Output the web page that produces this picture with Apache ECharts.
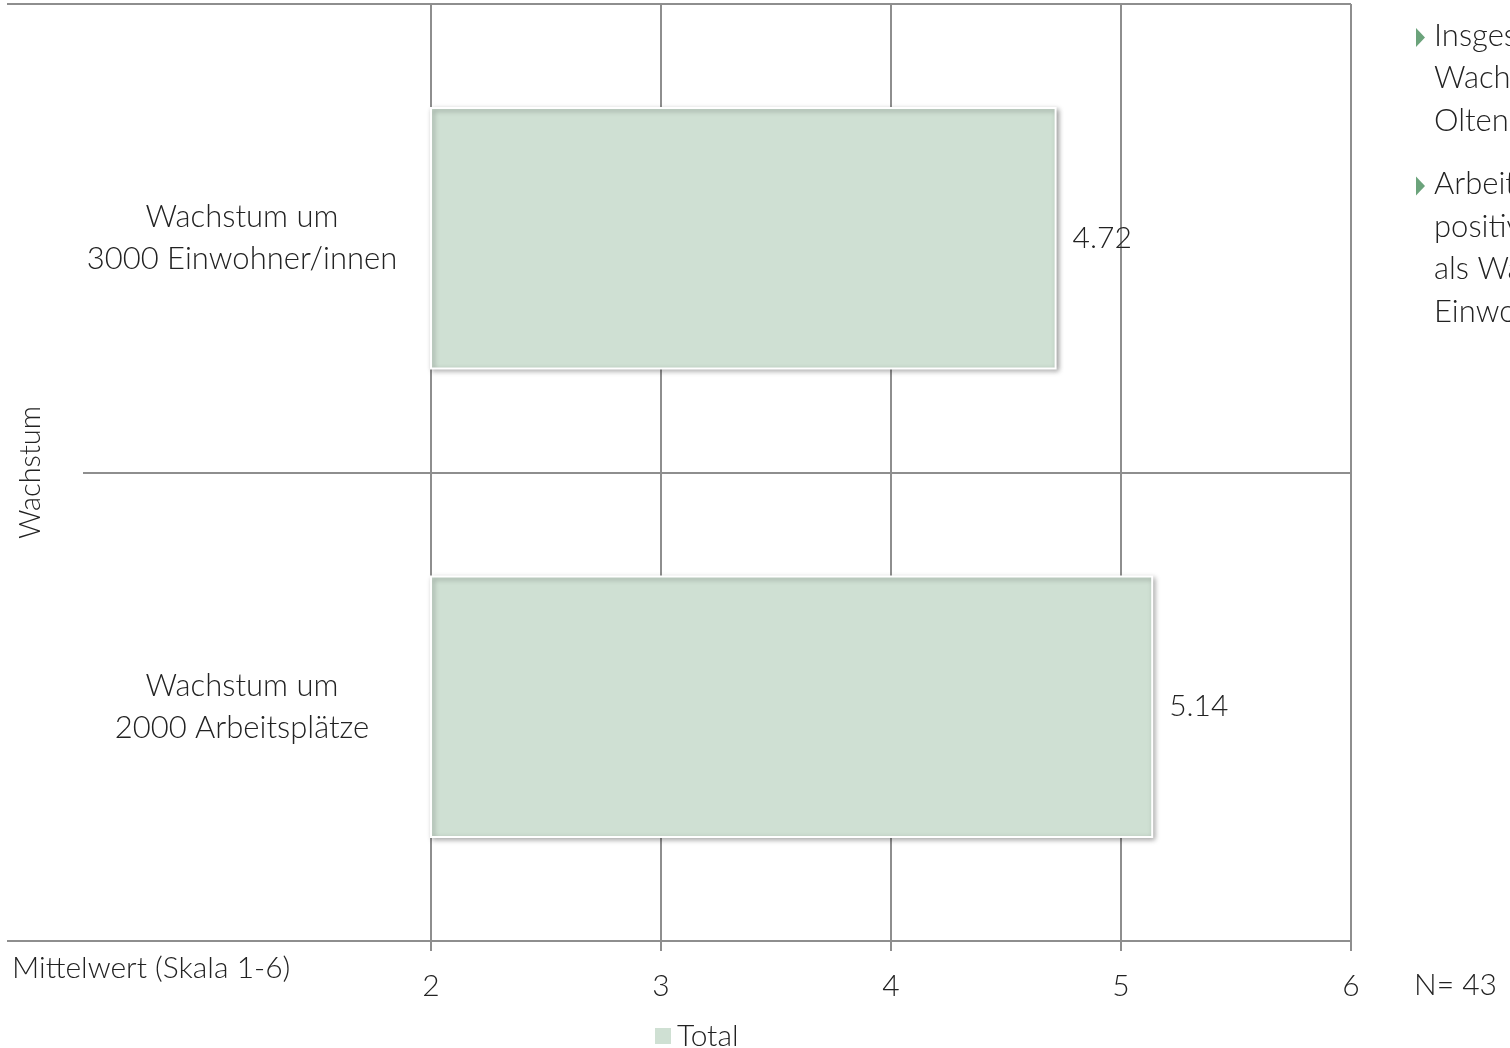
<!DOCTYPE html>
<html>
<head>
<meta charset="utf-8">
<script src="https://cdn.jsdelivr.net/npm/echarts@6/dist/echarts.min.js"></script>
<style>
html,body{margin:0;padding:0;background:#fff;}
#c{width:1510px;height:1048px;}
</style>
</head>
<body>
<div id="c"></div>
<script>
const categories = ['Wachstum um\n3000 Einwohner/innen', 'Wachstum um\n2000 Arbeitsplätze'];
const totalValues = [4.72, 5.14];
const seriesName = 'Total';
const xTicks = [2, 3, 4, 5, 6];
const yAxisName = 'Wachstum';
const xAxisName = 'Mittelwert (Skala 1-6)';
const nText = 'N= 43';
const bullets = [
  ['Insgesamt wird ein', 'Wachstum der Stadt', 'Olten positiv bewertet.'],
  ['Arbeitsplätze werden', 'positiver bewertet', 'als Wachstum um', 'Einwohner/innen.']
];

const FONT = 'Lato';
const LINE = '#8e8e8e';
const TXT = '#222';

const chart = echarts.init(document.getElementById('c'));

const graphics = [
  {type:'text', left:12, top:953, style:{text:xAxisName, fontFamily:FONT, fontWeight:300, fontSize:30, fill:TXT}},
  {type:'text', left:1414, top:970, style:{text:nText, fontFamily:FONT, fontWeight:300, fontSize:30, fill:TXT}}
];
let yPos = 20;
bullets.forEach((lines, bi) => {
  lines.forEach((ln, li) => {
    graphics.push({type:'text', left:1434, top:yPos, style:{text:ln, fontFamily:FONT, fontWeight:300, fontSize:31, fill:TXT}});
    if (li === 0) {
      graphics.push({type:'polygon', shape:{points:[[1416,yPos+8],[1416,yPos+27],[1425,yPos+17.5]]}, style:{fill:'#6ba37b'}});
    }
    yPos += 42.5;
  });
  yPos += 21;
});

chart.setOption({
  animation:false,
  backgroundColor:'#fff',
  grid:{left:431, right:159, top:4, bottom:107, containLabel:false, outerBoundsMode:'none'},
  legend:{
    data:[seriesName], left:648, top:1016, icon:'rect', itemWidth:18, itemHeight:18, itemGap:8,
    textStyle:{fontFamily:FONT, fontWeight:300, fontSize:30, color:TXT}
  },
  xAxis:{
    type:'value', min:2, max:6, interval:1,
    axisLine:{show:true, lineStyle:{color:LINE, width:2}},
    axisTick:{show:true, length:10, lineStyle:{color:LINE, width:2}},
    splitLine:{show:true, lineStyle:{color:LINE, width:2}},
    axisLabel:{margin:30, fontFamily:FONT, fontWeight:300, fontSize:30, color:TXT,
      formatter:v => xTicks.includes(v) ? String(v) : ''}
  },
  yAxis:[
    {
      type:'category', data:categories, inverse:true,
      name:yAxisName, nameLocation:'middle', nameGap:386, nameRotate:90,
      nameTextStyle:{fontFamily:FONT, fontWeight:300, fontSize:29, color:TXT},
      axisLine:{show:true, lineStyle:{color:LINE, width:2}},
      axisTick:{show:true, length:348, lineStyle:{color:LINE, width:2}},
      splitLine:{show:true, lineStyle:{color:LINE, width:2}},
      axisLabel:{align:'center', margin:189, lineHeight:42, fontFamily:FONT, fontWeight:300, fontSize:31, color:TXT}
    },
    {
      type:'category', data:[''], position:'left',
      axisLine:{show:false}, axisLabel:{show:false}, splitLine:{show:false},
      axisTick:{show:true, length:424, lineStyle:{color:LINE, width:2}}
    }
  ],
  series:[{
    name:seriesName, type:'bar', data:totalValues, yAxisIndex:0, barWidth:'56%',
    itemStyle:{color:'#cfe0d3', borderColor:'#ffffff', borderWidth:2,
      shadowBlur:5, shadowColor:'rgba(0,0,0,0.35)', shadowOffsetX:2, shadowOffsetY:2},
    label:{show:true, position:'right', distance:16, fontFamily:FONT, fontWeight:300, fontSize:30, color:TXT,
      formatter:p => p.value.toFixed(2)}
  }],
  graphic:graphics
});
</script>
</body>
</html>
